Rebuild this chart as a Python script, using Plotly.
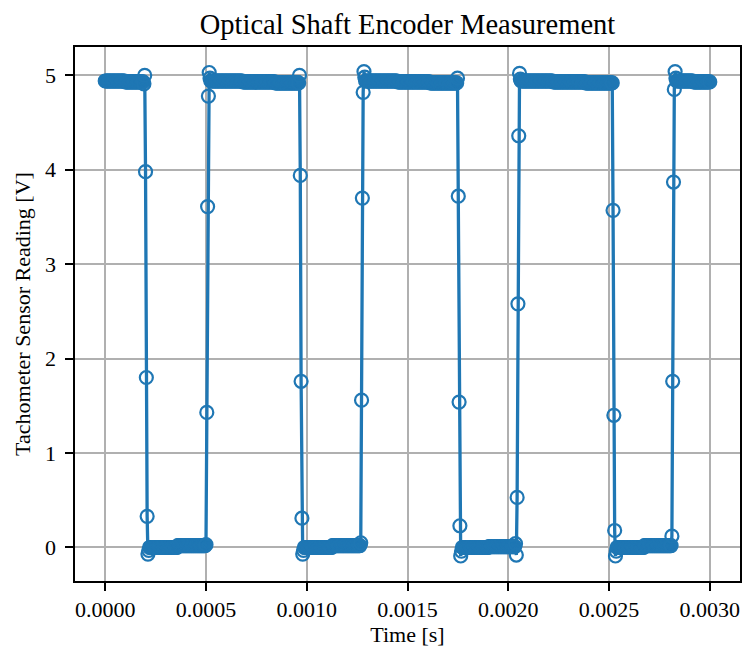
import numpy as np
import plotly.graph_objects as go

# Sampling: uniform sample period (run-length encoded)
dt = 4e-6
seg_values = [
    4.94, 4.93, 4.91, 5.00, 3.98, 1.80, 0.33, -0.07, -0.03,          # high 1 + falling 1
    0.00, 0.02, 0.03, 1.43, 3.61, 4.78, 5.03, 4.97,                  # low 1 + rising 1
    4.94, 4.93, 4.92, 5.00, 3.94, 1.76, 0.31, -0.07, -0.03,          # high 2 + falling 2
    0.00, 0.02, 0.05, 1.56, 3.70, 4.82, 5.04, 4.98,                  # low 2 + rising 2
    4.94, 4.93, 4.92, 4.97, 3.72, 1.54, 0.23, -0.09, -0.04,          # high 3 + falling 3
    0.00, 0.01, 0.04, -0.08, 0.53, 2.58, 4.36, 5.02, 4.96,           # low 3 + rising 3
    4.94, 4.93, 4.92, 3.57, 1.40, 0.18, -0.09, -0.04,                # high 4 + falling 4
    0.00, 0.02, 0.12, 1.76, 3.87, 4.85, 5.04, 4.97,                  # low 4 + rising 4
    4.94, 4.93,                                                      # high 5
]
seg_counts = [
    25, 23, 1, 1, 1, 1, 1, 1, 1,
    35, 35, 1, 1, 1, 1, 1, 1,
    40, 40, 30, 1, 1, 1, 1, 1, 1,
    35, 35, 1, 1, 1, 1, 1, 1,
    40, 40, 34, 1, 1, 1, 1, 1, 1,
    33, 33, 1, 1, 1, 1, 1, 1, 1,
    40, 40, 34, 1, 1, 1, 1, 1,
    34, 34, 1, 1, 1, 1, 1, 1,
    21, 21,
]

voltage = np.repeat(seg_values, seg_counts)
time = np.arange(len(voltage)) * dt

x_ticks = [0.0, 0.0005, 0.0010, 0.0015, 0.0020, 0.0025, 0.0030]
x_tick_labels = ["0.0000", "0.0005", "0.0010", "0.0015", "0.0020", "0.0025", "0.0030"]
y_ticks = [0, 1, 2, 3, 4, 5]

blue = "#1f77b4"
font_family = "Liberation Serif, Times New Roman, serif"

fig = go.Figure()
fig.add_trace(go.Scatter(
    x=time, y=voltage, mode="lines+markers",
    line=dict(color=blue, width=3.3),
    marker=dict(symbol="circle-open", size=13, color=blue, line=dict(width=2.2, color=blue)),
    showlegend=False,
))

axis_common = dict(
    showline=True, linecolor="black", linewidth=1.8, mirror=True,
    showgrid=True, gridcolor="#b0b0b0", gridwidth=1.6,
    zeroline=False, ticks="outside", ticklen=7.7, tickwidth=1.8, tickcolor="black",
    tickfont=dict(family=font_family, size=22, color="black"),
)

fig.update_layout(
    width=746, height=653,
    margin=dict(l=75, r=4, t=47, b=72),
    plot_bgcolor="white", paper_bgcolor="white",
    title=dict(text="Optical Shaft Encoder Measurement", x=0.5, xref="paper",
               y=1 - 24 / 653, yref="container", yanchor="middle", xanchor="center",
               font=dict(family=font_family, size=28.5, color="black")),
    xaxis=dict(range=[-0.00015, 0.00315], tickvals=x_ticks, ticktext=x_tick_labels,
               title=dict(text="Time [s]", font=dict(family=font_family, size=22, color="black"), standoff=6),
               **axis_common),
    yaxis=dict(range=[-0.355, 5.3], tickvals=y_ticks, ticklabelstandoff=5,
               title=dict(text="Tachometer Sensor Reading [V]", font=dict(family=font_family, size=22, color="black"), standoff=8),
               **axis_common),
)

fig.write_html("out.html")
